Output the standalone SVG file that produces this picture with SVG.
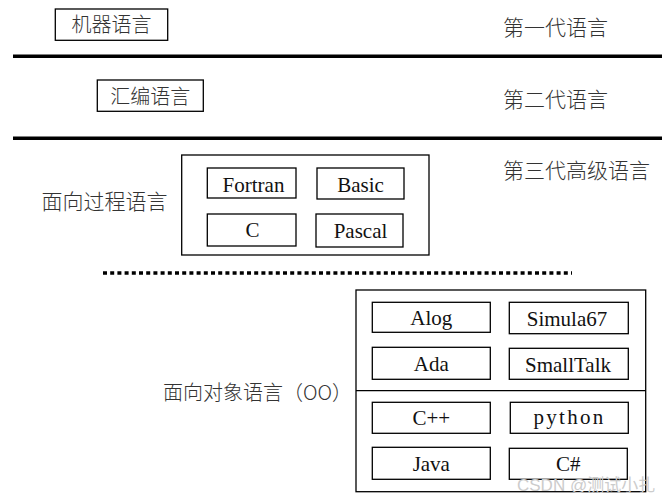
<svg xmlns="http://www.w3.org/2000/svg" width="669" height="503" viewBox="0 0 669 503">
<style>
.bg{fill:#ffffff}
.box{fill:#ffffff;stroke:#000;stroke-width:1.3}
.frame{fill:none;stroke:#000;stroke-width:1.3}
.cjk{font-family:"Noto Sans CJK SC","Noto Sans",sans-serif;font-size:20px;font-weight:300;fill:#333}
.gen{font-family:"Noto Sans CJK SC","Noto Sans",sans-serif;font-size:21px;font-weight:300;fill:#333}
.lat{font-family:"Liberation Serif","Times New Roman",serif;font-size:21px;fill:#111;text-anchor:middle}
.sep{stroke:#000;stroke-width:3.6}
.dot{stroke:#000;stroke-width:3.6;stroke-dasharray:4 3.2}
.wm{font-family:"Liberation Sans","Noto Sans CJK SC",sans-serif;font-size:17px;fill:#cccccc}
</style>
<rect class="bg" x="0" y="0" width="669" height="503"/>

<g id="connectors">
  <line class="sep" x1="13" y1="56.3" x2="662" y2="56.3"/>
  <line class="sep" x1="13" y1="138.3" x2="662" y2="138.3"/>
  <line class="dot" x1="103" y1="273" x2="572" y2="273"/>
</g>

<g id="gen1-label"><text class="gen" x="503" y="34.5">第一代语言</text></g>
<g id="gen2-label"><text class="gen" x="503" y="106.5">第二代语言</text></g>
<g id="gen3-label"><text class="gen" x="503" y="177.5">第三代高级语言</text></g>

<g id="machine">
  <rect class="box" x="55.3" y="9" width="112.4" height="31.3"/>
  <text class="cjk" x="111.5" y="32" text-anchor="middle">机器语言</text>
</g>

<g id="assembly">
  <rect class="box" x="97.3" y="80" width="106" height="31.3"/>
  <text class="cjk" x="150.3" y="103.5" text-anchor="middle">汇编语言</text>
</g>

<g id="procedural">
  <text class="gen" x="41.5" y="209.3">面向过程语言</text>
  <rect class="frame" x="181.7" y="155" width="247.3" height="100"/>
</g>
<g id="fortran">
  <rect class="box" x="207.3" y="168" width="88.7" height="30"/>
  <text class="lat" x="253.5" y="191.7">Fortran</text>
</g>
<g id="basic">
  <rect class="box" x="317" y="168" width="87" height="31"/>
  <text class="lat" x="360.5" y="191.7">Basic</text>
</g>
<g id="c">
  <rect class="box" x="207.3" y="214" width="88.7" height="32"/>
  <text class="lat" x="252.5" y="237">C</text>
</g>
<g id="pascal">
  <rect class="box" x="316" y="214" width="87" height="33"/>
  <text class="lat" x="360.5" y="237.5">Pascal</text>
</g>

<g id="object-oriented">
  <text class="cjk" x="163" y="399.5">面向对象语言（OO）</text>
  <rect class="frame" x="356" y="290" width="289.7" height="201.7"/>
  <line class="frame" x1="356" y1="390.7" x2="645.7" y2="390.7"/>
</g>
<g id="alog">
  <rect class="box" x="372.3" y="302.3" width="118" height="30"/>
  <text class="lat" x="431.3" y="325">Alog</text>
</g>
<g id="simula67">
  <rect class="box" x="509.3" y="302.3" width="119" height="31.4"/>
  <text class="lat" x="567" y="325.5">Simula67</text>
</g>
<g id="ada">
  <rect class="box" x="372.3" y="347.3" width="118" height="32"/>
  <text class="lat" x="431.3" y="371">Ada</text>
</g>
<g id="smalltalk">
  <rect class="box" x="509.3" y="348.3" width="119" height="31"/>
  <text class="lat" x="568" y="371.5">SmallTalk</text>
</g>
<g id="cpp">
  <rect class="box" x="372.3" y="402.3" width="118" height="31"/>
  <text class="lat" x="431.3" y="425">C++</text>
</g>
<g id="python">
  <rect class="box" x="510.3" y="402.3" width="118" height="31"/>
  <text class="lat" x="569.5" y="424" letter-spacing="2.3">python</text>
</g>
<g id="java">
  <rect class="box" x="372.3" y="447.3" width="118" height="32"/>
  <text class="lat" x="431.3" y="471">Java</text>
</g>
<g id="csharp">
  <rect class="box" x="509.3" y="448.3" width="118" height="31"/>
  <text class="lat" x="568.3" y="471">C#</text>
</g>

<g id="watermark">
  <text class="wm" x="517" y="491">CSDN @测试小扎</text>
</g>
</svg>
